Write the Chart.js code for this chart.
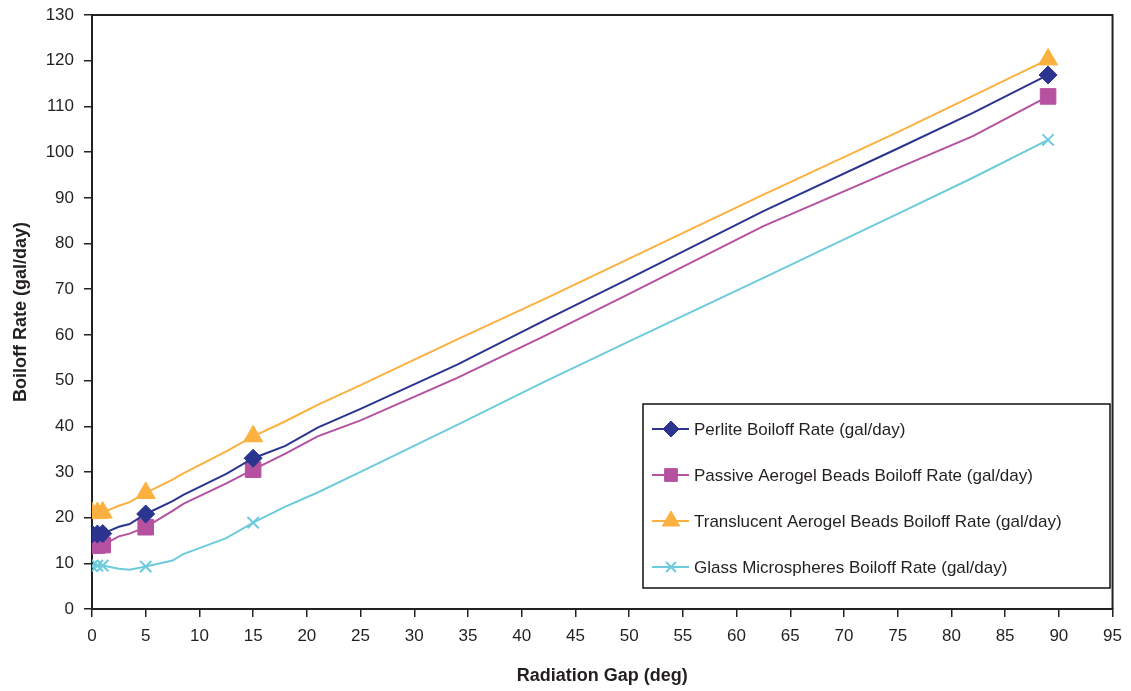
<!DOCTYPE html>
<html>
<head>
<meta charset="utf-8">
<script src="https://cdn.jsdelivr.net/npm/chart.js@4.4.1/dist/chart.umd.min.js"></script>
<style>
  html, body { margin: 0; padding: 0; background: #fff; }
  #wrap { width: 1131px; height: 691px; }
</style>
</head>
<body>
<div id="wrap"><canvas id="boiloffChart" width="1131" height="691"></canvas></div>
<script>
// radiation gap (deg) where readings were taken off the plot
const gapDeg = [0, 0.5, 1, 2.5, 3.5, 5, 7.5, 8.5, 12.5, 15, 18, 21, 25, 34, 42, 50, 62.5, 75, 82, 89];
// gap values that carry a marker in the original
const markerGaps = [0, 0.5, 1, 5, 15, 89];

const perlite     = [16.4, 16.4, 16.5, 18.0, 18.6, 20.8, 23.6, 25.0, 29.6, 33.0, 35.7, 39.7, 43.8, 53.5, 63.0, 72.3, 87.1, 100.8, 108.6, 116.9];
const passiveGel  = [13.9, 13.9, 14.0, 15.9, 16.5, 17.9, 21.5, 23.0, 27.5, 30.5, 34.0, 37.8, 41.3, 50.6, 59.6, 69.0, 83.8, 96.5, 103.5, 112.2];
const transGel    = [21.0, 21.0, 21.1, 22.6, 23.4, 25.4, 28.3, 29.7, 34.5, 37.8, 41.1, 44.7, 49.0, 59.0, 67.7, 76.7, 90.7, 104.4, 112.3, 120.3];
const glassMicro  = [9.4, 9.5, 9.5, 8.8, 8.6, 9.3, 10.6, 12.0, 15.5, 18.9, 22.4, 25.5, 30.0, 40.3, 49.6, 58.6, 72.5, 86.5, 94.4, 102.7];

const seriesNames = [
  "Perlite Boiloff Rate (gal/day)",
  "Passive Aerogel Beads Boiloff Rate (gal/day)",
  "Translucent Aerogel Beads Boiloff Rate (gal/day)",
  "Glass Microspheres Boiloff Rate (gal/day)"
];

const FONT = "'Liberation Sans', Arial, sans-serif";

function makeSet(label, values, color, style, radius, legendRadius) {
  return {
    label,
    data: gapDeg.map((g, i) => ({ x: g, y: values[i] })),
    borderColor: color,
    backgroundColor: color,
    borderWidth: 2,
    tension: 0,
    pointStyle: style,
    pointRadius: gapDeg.map(g => markerGaps.includes(g) ? radius : 0),
    pointBorderWidth: style === 'crossRot' ? 2 : 1,
    pointBorderColor: color,
    pointBackgroundColor: color,
    pointHoverRadius: 0,
    _legendRadius: legendRadius
  };
}

// legend box drawn inside the plot area, plus the frame on top/right
const framePlugin = {
  id: 'frameAndLegend',
  afterDatasetsDraw(chart) {
    const { ctx, chartArea: a } = chart;
    ctx.save();
    ctx.strokeStyle = '#222';
    ctx.lineWidth = 2;
    ctx.beginPath();
    ctx.moveTo(a.left, a.top);
    ctx.lineTo(a.right, a.top);
    ctx.lineTo(a.right, a.bottom);
    ctx.stroke();

    // legend
    const bx = 643, by = 404, bw = 467, bh = 184;
    ctx.fillStyle = '#fff';
    ctx.fillRect(bx, by, bw, bh);
    ctx.strokeStyle = '#111';
    ctx.lineWidth = 1.5;
    ctx.strokeRect(bx, by, bw, bh);
    chart.data.datasets.forEach((ds, i) => {
      const y = by + 25 + i * 46;
      ctx.strokeStyle = ds.borderColor;
      ctx.lineWidth = 2;
      ctx.beginPath();
      ctx.moveTo(bx + 9, y);
      ctx.lineTo(bx + 46, y);
      ctx.stroke();
      ctx.fillStyle = ds.backgroundColor;
      ctx.lineWidth = ds.pointBorderWidth;
      Chart.helpers.drawPoint(ctx, {
        pointStyle: ds.pointStyle,
        radius: ds._legendRadius,
        borderWidth: ds.pointBorderWidth,
        rotation: 0
      }, bx + 28, y);
      ctx.fillStyle = '#231f20';
      ctx.font = '17px ' + FONT;
      ctx.textBaseline = 'middle';
      ctx.textAlign = 'left';
      ctx.fillText(ds.label, bx + 51, y + 1);
    });
    ctx.restore();
  }
};

new Chart(document.getElementById('boiloffChart').getContext('2d'), {
  type: 'line',
  data: {
    datasets: [
      makeSet(seriesNames[0], perlite, '#2b3590', 'rectRot', 9, 8),
      makeSet(seriesNames[1], passiveGel, '#b5519f', 'rect', 11, 9),
      makeSet(seriesNames[2], transGel, '#fbb040', 'triangle', 11, 10),
      makeSet(seriesNames[3], glassMicro, '#6dcbdc', 'crossRot', 8, 7)
    ]
  },
  options: {
    responsive: false,
    animation: false,
    layout: { padding: { top: 12, right: 15, left: 6, bottom: 0 } },
    plugins: {
      legend: { display: false },
      tooltip: { enabled: false }
    },
    scales: {
      x: {
        type: 'linear',
        min: 0, max: 95,
        border: { color: '#222', width: 2 },
        grid: { drawOnChartArea: false, drawTicks: true, tickLength: 8, color: '#222', lineWidth: 1.5 },
        ticks: { stepSize: 5, color: '#231f20', font: { family: FONT, size: 17 }, padding: 9, maxRotation: 0 },
        title: { display: true, text: 'Radiation Gap (deg)', color: '#231f20', font: { family: FONT, size: 18, weight: 'bold' }, padding: { top: 10 } },
        afterFit(scale) { scale.height = 82; }
      },
      y: {
        min: 0, max: 130,
        border: { color: '#222', width: 2 },
        grid: { drawOnChartArea: false, drawTicks: true, tickLength: 8, color: '#222', lineWidth: 1.5 },
        ticks: { stepSize: 10, color: '#231f20', font: { family: FONT, size: 17, lineHeight: 0.6 }, padding: 10 },
        title: { display: true, text: 'Boiloff Rate (gal/day)', color: '#231f20', font: { family: FONT, size: 18, weight: 'bold' }, padding: { bottom: 6 } },
        afterFit(scale) { scale.width = 86; }
      }
    }
  },
  plugins: [framePlugin]
});
</script>
</body>
</html>
